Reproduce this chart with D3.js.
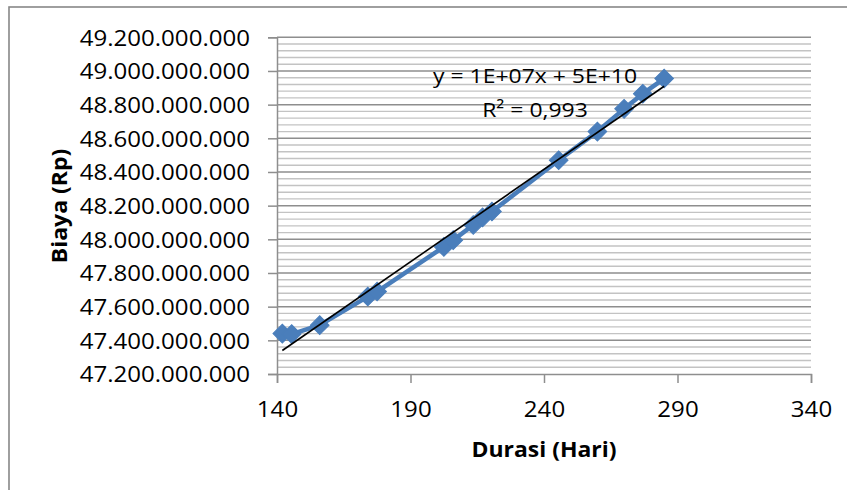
<!DOCTYPE html>
<html>
<head>
<meta charset="utf-8">
<script src="https://cdn.jsdelivr.net/npm/d3@7"></script>
<style>
  html, body { margin: 0; padding: 0; background: #fff; }
  svg { display: block; }
  text { font-family: "Open Sans", "Noto Sans", sans-serif; fill: #000; }
</style>
</head>
<body>
<svg id="chart" width="847" height="490"></svg>
<script>
// ---- data ----
const durasi = [142, 145.5, 156, 174, 177.5, 202.5, 206, 213.5, 217, 220.5, 245.5, 260, 270, 277, 285];
const biaya  = [47.440e9, 47.437e9, 47.490e9, 47.660e9, 47.690e9, 47.955e9, 47.995e9, 48.085e9, 48.130e9, 48.165e9, 48.470e9, 48.640e9, 48.775e9, 48.865e9, 48.955e9];
const xTickValues = [140, 190, 240, 290, 340];
const yTickValues = [47.2e9, 47.4e9, 47.6e9, 47.8e9, 48.0e9, 48.2e9, 48.4e9, 48.6e9, 48.8e9, 49.0e9, 49.2e9];
const yMinorStep = 4e7;
const xTitle = "Durasi (Hari)";
const yTitle = "Biaya (Rp)";
const trendLabels = ["y = 1E+07x + 5E+10", "R² = 0,993"];

// ---- setup ----
const svg = d3.select("#chart");
const plot = { left: 277, right: 811, top: 37.3, bottom: 374 };
const SX = 1.12; // horizontal glyph stretch

const x = d3.scaleLinear().domain([140, 340]).range([plot.left, plot.right]);
const y = d3.scaleLinear().domain([47.2e9, 49.2e9]).range([plot.bottom, plot.top]);

const loc = d3.formatLocale({ decimal: ",", thousands: ".", grouping: [3], currency: ["", ""] });
const fmt = loc.format(",.0f");

// outer border
svg.append("rect")
  .attr("x", 9).attr("y", 7).attr("width", 860).attr("height", 500)
  .attr("fill", "none").attr("stroke", "#878787").attr("stroke-width", 1.6);

// minor gridlines
const minorVals = d3.range(47.2e9, 49.2e9 + 1, yMinorStep).filter(v => Math.round(v / yMinorStep) % 5 !== 0);
svg.append("g").selectAll("line").data(minorVals).join("line")
  .attr("x1", plot.left).attr("x2", plot.right)
  .attr("y1", d => y(d)).attr("y2", d => y(d))
  .attr("stroke", "#c3c3c3").attr("stroke-width", 1.4);

// major gridlines
svg.append("g").selectAll("line").data(yTickValues.slice(1)).join("line")
  .attr("x1", plot.left).attr("x2", plot.right)
  .attr("y1", d => y(d)).attr("y2", d => y(d))
  .attr("stroke", "#8e8e8e").attr("stroke-width", 1.5);

// y axis
const yAxis = svg.append("g").attr("transform", `translate(${plot.left},0)`)
  .call(d3.axisLeft(y).tickValues(yTickValues).tickFormat(fmt).tickSizeOuter(0).tickSize(9).tickPadding(0));
yAxis.select(".domain").attr("stroke", "#8e8e8e").attr("stroke-width", 1.5);
yAxis.selectAll(".tick line").attr("stroke", "#8e8e8e").attr("stroke-width", 1.5);
yAxis.selectAll(".tick text")
  .attr("x", null).attr("dy", "0.36em")
  .attr("transform", `translate(-27,0) scale(${SX},1)`)
  .style("font-size", "21.5px").style("font-family", "'Open Sans', sans-serif").attr("fill", "#000");

// x axis
const xAxis = svg.append("g").attr("transform", `translate(0,${plot.bottom})`)
  .call(d3.axisBottom(x).tickValues(xTickValues).tickFormat(d3.format("d")).tickSizeOuter(0).tickSize(9).tickPadding(0));
xAxis.select(".domain").attr("stroke", "#8e8e8e").attr("stroke-width", 1.5);
xAxis.selectAll(".tick line").attr("stroke", "#8e8e8e").attr("stroke-width", 1.5);
xAxis.selectAll(".tick text")
  .attr("y", null).attr("dy", null)
  .attr("transform", `translate(0,43) scale(${SX},1)`)
  .style("font-size", "21.5px").style("font-family", "'Open Sans', sans-serif").attr("fill", "#000");

// axis titles
svg.append("text")
  .attr("transform", `translate(544,457) scale(${SX},1)`)
  .attr("text-anchor", "middle")
  .style("font-size", "20.5px").style("font-weight", "bold")
  .text(xTitle);
svg.append("text")
  .attr("transform", `translate(67,206) rotate(-90) scale(${SX},1)`)
  .attr("text-anchor", "middle")
  .style("font-size", "20.5px").style("font-weight", "bold")
  .text(yTitle);

// series line + markers
const pts = durasi.map((d, i) => [d, biaya[i]]);
svg.append("path")
  .datum(pts)
  .attr("d", d3.line().x(d => x(d[0])).y(d => y(d[1])))
  .attr("fill", "none").attr("stroke", "#4a7ebb").attr("stroke-width", 4.5)
  .attr("stroke-linejoin", "round");

const diamond = d3.symbol().type(d3.symbolSquare).size(175);
svg.append("g").selectAll("path").data(pts).join("path")
  .attr("d", diamond)
  .attr("transform", d => `translate(${x(d[0])},${y(d[1])}) rotate(45)`)
  .attr("fill", "#4a7ebb").attr("stroke", "#4a7ebb").attr("stroke-width", 1);

// linear trendline (least squares)
const mx = d3.mean(durasi), my = d3.mean(biaya);
const sxy = d3.sum(durasi, (d, i) => (d - mx) * (biaya[i] - my));
const sxx = d3.sum(durasi, d => (d - mx) * (d - mx));
const slope = sxy / sxx, intercept = my - slope * mx;
const [x0, x1] = d3.extent(durasi);
svg.append("line")
  .attr("x1", x(x0)).attr("y1", y(intercept + slope * x0))
  .attr("x2", x(x1)).attr("y2", y(intercept + slope * x1))
  .attr("stroke", "#000").attr("stroke-width", 1.6);

// trendline label
svg.append("text")
  .attr("transform", `translate(535,83) scale(${SX},1)`)
  .attr("text-anchor", "middle").style("font-size", "20.5px")
  .text(trendLabels[0]);
svg.append("text")
  .attr("transform", `translate(535,117) scale(${SX},1)`)
  .attr("text-anchor", "middle").style("font-size", "20.5px")
  .text(trendLabels[1]);
</script>
</body>
</html>
